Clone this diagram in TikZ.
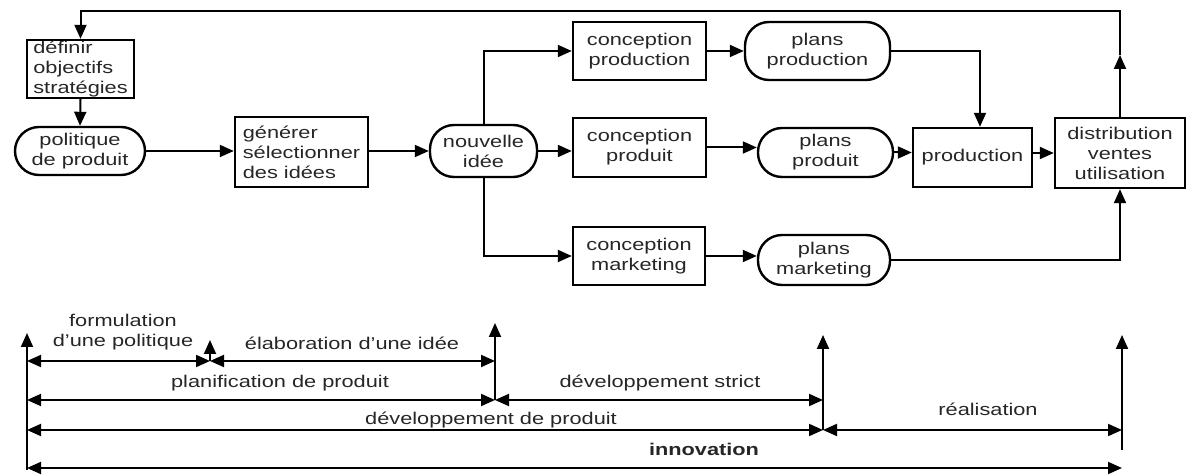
\documentclass[tikz,border=0pt]{standalone}
\usepackage{fontspec}
\setmainfont[FakeStretch=1.28]{Liberation Sans}
\usetikzlibrary{arrows.meta,calc}
\begin{document}
\begin{tikzpicture}[x=0.5pt,y=-0.5pt,
  >={Triangle[length=7pt,width=6pt]},
  line width=1pt,
  every node/.style={font=\fontsize{8.5}{10}\selectfont, text=black!85, inner sep=0pt, align=center},
  box/.style={draw, rectangle, line width=1.2pt},
  pill/.style={draw, rectangle, rounded corners=12pt, line width=1.2pt},
  flow/.style={->},
  span/.style={<->},
  riser/.style={->}
]
\useasboundingbox (0,0) rectangle (1189,475);

% ---- flow chart ----
\node[box, minimum width=53.5pt, minimum height=29pt, align=left] (defi) at (80.5,69) {définir\\objectifs\\stratégies};
\node[pill, minimum width=65pt, minimum height=24pt] (poli) at (80,151) {politique\\de produit};
\node[box, minimum width=66.5pt, minimum height=35pt, align=left] (gen) at (301.5,152) {générer\\sélectionner\\des idées};
\node[pill, minimum width=53.5pt, minimum height=26pt] (idee) at (483.5,151) {nouvelle\\idée};
\node[box, minimum width=66.5pt, minimum height=29pt] (cprod) at (639.5,51) {conception\\production};
\node[box, minimum width=66.5pt, minimum height=29.5pt] (cpdt) at (639.5,147.5) {conception\\produit};
\node[box, minimum width=66pt, minimum height=29pt] (cmkt) at (639,256) {conception\\marketing};
\node[pill, minimum width=72.5pt, minimum height=29pt] (pprod) at (817.5,51) {plans\\production};
\node[pill, minimum width=67.5pt, minimum height=24.5pt] (ppdt) at (825.5,152.5) {plans\\produit};
\node[pill, minimum width=66pt, minimum height=25pt] (pmkt) at (824,260) {plans\\marketing};
\node[box, minimum width=59.5pt, minimum height=29.5pt] (prod) at (972.5,157.5) {production};
\node[box, minimum width=65pt, minimum height=35pt] (dist) at (1120,153) {distribution\\ventes\\utilisation};

\draw[flow] (defi.south) -- (poli.north);
\draw[flow] (poli.east) -- (poli.east -| gen.west);
\draw[flow] (idee.west -| gen.east) -- (idee.west);
\draw[flow] (idee.north) |- (cprod.west);
\draw[flow] (idee.south) |- (cmkt.west);
\draw[flow] (idee.east) -- (idee.east -| cpdt.west);
\draw[flow] (cprod.east) -- (pprod.west);
\draw[flow] (cpdt.east) -- (cpdt.east -| ppdt.west);
\draw[flow] (cmkt.east) -- (cmkt.east -| pmkt.west);
\draw[flow] (pprod.east) -| ($(prod.north)+(7.5,0)$);
\draw[flow] (ppdt.east) -- (ppdt.east -| prod.west);
\draw[flow] (prod.east |- dist.west) -- (dist.west);
\draw[flow] (pmkt.east) -| (dist.south);

% feedback loop
\coordinate (top) at (0,11);
\coordinate (up) at (0,55);
\draw[flow] (dist.north) -- (dist.north |- up);
\draw[flow] (dist.north |- up) -- (dist.north |- top) -| (defi.north);

% ---- phases ----
\coordinate (r1) at (0,361);
\coordinate (r2) at (0,400);
\coordinate (r3) at (0,430);
\coordinate (r4) at (0,468);
\coordinate (p0b) at (27,470);  \coordinate (p0t) at (27,333);
\coordinate (p1t) at (210,340);
\coordinate (p2t) at (495,323);
\coordinate (p3t) at (823,335);
\coordinate (p4b) at (1122,450); \coordinate (p4t) at (1122,335);

\draw[riser] (p0b) -- (p0t);
\draw[riser] (p1t |- r1) -- (p1t);
\draw[riser] (p2t |- r2) -- (p2t);
\draw[riser] (p3t |- r3) -- (p3t);
\draw[riser] (p4b) -- (p4t);

\draw[span] (p0t |- r1) -- (p1t |- r1);
\draw[span] (p1t |- r1) -- (p2t |- r1);
\draw[span] (p0t |- r2) -- (p2t |- r2);
\draw[span] (p2t |- r2) -- (p3t |- r2);
\draw[span] (p0t |- r3) -- (p3t |- r3);
\draw[span] (p3t |- r3) -- (p4t |- r3);
\draw[span] (p0t |- r4) -- (p4t |- r4);

\node (lform) at (123,332) {formulation\\d'une politique};
\node (lelab) at (352,343) {élaboration d'une idée};
\node (lplan) at (280,383) {planification de produit};
\node (ldevs) at (660,383) {développement strict};
\node (ldevp) at (491,420) {développement de produit};
\node (lreal) at (988,409) {réalisation};
\node[font=\fontsize{8.5}{10}\selectfont\bfseries] (linno) at (704,449) {innovation};
\end{tikzpicture}
\end{document}
